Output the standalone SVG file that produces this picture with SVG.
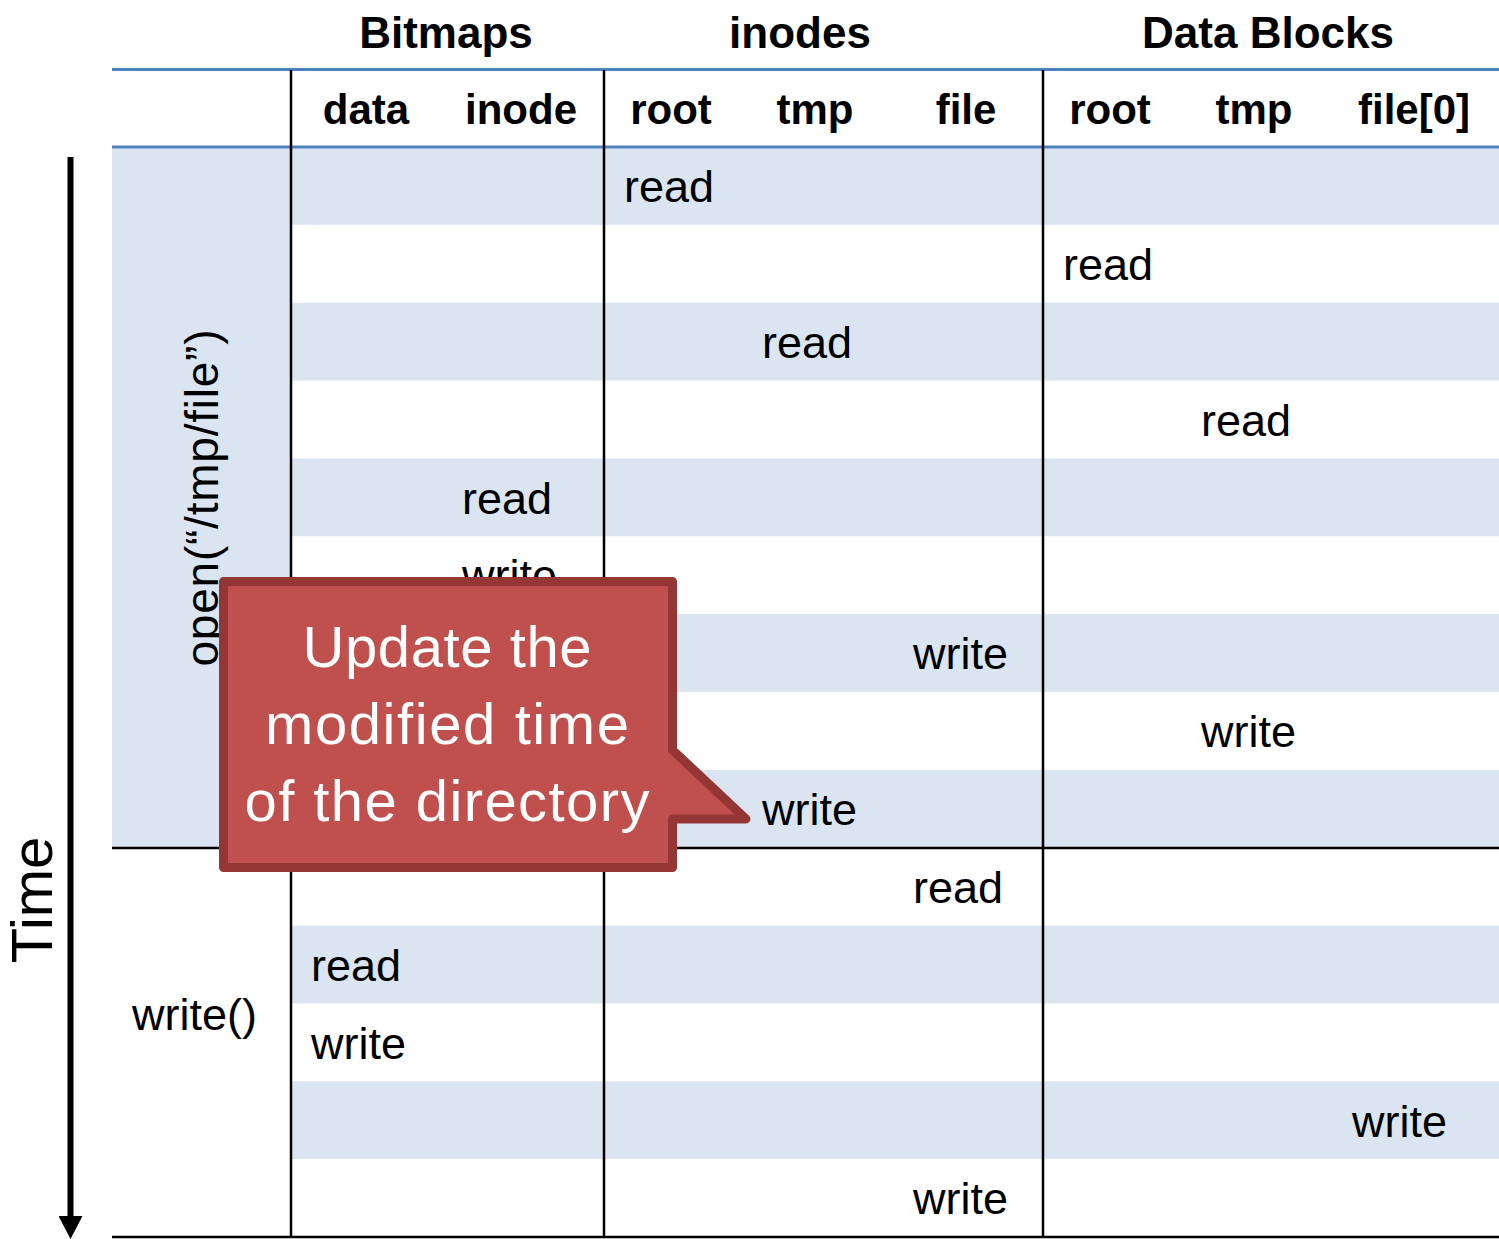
<svg xmlns="http://www.w3.org/2000/svg" width="1499" height="1239" viewBox="0 0 1499 1239">
  <style>
    .shade { fill: #DBE5F1; }
    .blue { stroke: #4F81BD; stroke-width: 3; fill: none; }
    .rule { stroke: #000; stroke-width: 2.5; fill: none; }
    .hdr { font-family: "Liberation Sans", Arial, sans-serif; font-weight: bold; fill: #000; text-anchor: middle; }
    .grp { font-size: 44px; }
    .col { font-size: 42px; }
    .cell { font-family: "Liberation Sans", Arial, sans-serif; font-size: 45px; fill: #000; }
    .vert { font-family: "Liberation Sans", Arial, sans-serif; font-size: 46px; fill: #000; text-anchor: middle; }
    .axis { font-family: "Liberation Sans", Arial, sans-serif; font-size: 58px; fill: #000; text-anchor: middle; }
    .call { font-family: "Liberation Sans", Arial, sans-serif; font-size: 58px; fill: #fff; text-anchor: middle; }
  </style>
  <defs>
    <marker id="arrowhead" viewBox="0 0 23 24" refX="1" refY="12" markerWidth="23" markerHeight="24" markerUnits="userSpaceOnUse" orient="auto">
      <path d="M0,0 L23,12 L0,24 Z" fill="#000"/>
    </marker>
  </defs>

  <rect width="1499" height="1239" fill="#fff"/>

  <!-- row shading -->
  <g id="shading">
    <rect class="shade" x="112" y="147" width="179" height="701"/>
    <rect class="shade" x="112" y="147" width="1387" height="77.86"/>
    <rect class="shade" x="112" y="302.71" width="1387" height="77.86"/>
    <rect class="shade" x="112" y="458.43" width="1387" height="77.86"/>
    <rect class="shade" x="112" y="614.14" width="1387" height="77.86"/>
    <rect class="shade" x="112" y="769.86" width="1387" height="77.86"/>
    <rect class="shade" x="291" y="925.57" width="1208" height="77.86"/>
    <rect class="shade" x="291" y="1081.29" width="1208" height="77.86"/>
  </g>

  <!-- table rules -->
  <g id="grid">
    <line class="blue" x1="112" y1="69.5" x2="1499" y2="69.5"/>
    <line class="blue" x1="112" y1="147" x2="1499" y2="147"/>
    <line class="rule" x1="291" y1="70" x2="291" y2="1237"/>
    <line class="rule" x1="604" y1="70" x2="604" y2="1237"/>
    <line class="rule" x1="1043" y1="70" x2="1043" y2="1237"/>
    <line class="rule" x1="112" y1="848" x2="1499" y2="848"/>
    <line class="rule" x1="112" y1="1237" x2="1499" y2="1237"/>
  </g>

  <!-- column headings -->
  <g id="headers">
    <text class="hdr grp" x="446" y="48">Bitmaps</text>
    <text class="hdr grp" x="800" y="48">inodes</text>
    <text class="hdr grp" x="1268" y="48">Data Blocks</text>
    <text class="hdr col" x="366" y="124">data</text>
    <text class="hdr col" x="521" y="124">inode</text>
    <text class="hdr col" x="671" y="124">root</text>
    <text class="hdr col" x="815" y="124">tmp</text>
    <text class="hdr col" x="966" y="124">file</text>
    <text class="hdr col" x="1110" y="124">root</text>
    <text class="hdr col" x="1254" y="124">tmp</text>
    <text class="hdr col" x="1414" y="124">file[0]</text>
  </g>

  <!-- system calls -->
  <g id="syscalls">
    <text class="vert" textLength="337" transform="translate(218 498) rotate(-90)">open(“/tmp/file”)</text>
    <text class="cell" x="132" y="1030">write()</text>
  </g>

  <!-- access sequence -->
  <g id="accesses">
    <text class="cell" x="624" y="202">read</text>
    <text class="cell" x="1063" y="280">read</text>
    <text class="cell" x="762" y="358">read</text>
    <text class="cell" x="1201" y="436">read</text>
    <text class="cell" x="462" y="514">read</text>
    <text class="cell" x="462" y="591">write</text>
    <text class="cell" x="913" y="669">write</text>
    <text class="cell" x="1201" y="747">write</text>
    <text class="cell" x="762" y="825">write</text>
    <text class="cell" x="913" y="903">read</text>
    <text class="cell" x="311" y="981">read</text>
    <text class="cell" x="311" y="1059">write</text>
    <text class="cell" x="1352" y="1137">write</text>
    <text class="cell" x="913" y="1214">write</text>
  </g>

  <!-- time axis -->
  <g id="connectors">
    <line x1="70.5" y1="157" x2="70.5" y2="1217" stroke="#000" stroke-width="6" marker-end="url(#arrowhead)"/>
  </g>
  <g id="time-label">
    <text class="axis" transform="translate(52 900) rotate(-90)">Time</text>
  </g>

  <!-- callout -->
  <g id="callout">
    <path d="M223.5,581.5 H672.5 V750 L746,819 H672.5 V867.5 H223.5 Z" fill="#C0504D" stroke="#943634" stroke-width="9" stroke-linejoin="round"/>
    <text class="call" x="447" y="667" textLength="289">Update the</text>
    <text class="call" x="447" y="744" textLength="364">modified time</text>
    <text class="call" x="447" y="821" textLength="405">of the directory</text>
  </g>
</svg>
